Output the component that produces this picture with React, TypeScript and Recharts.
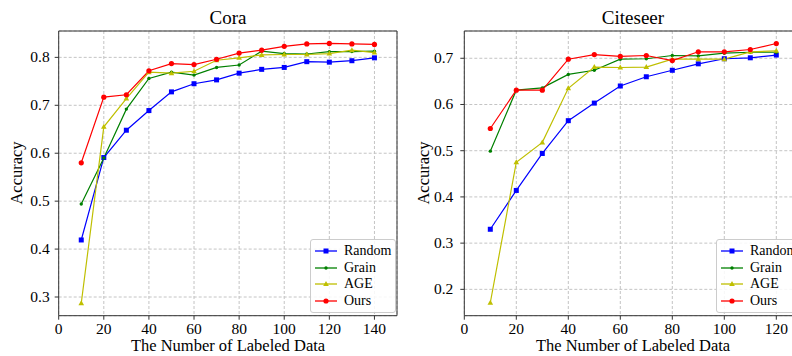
import React from 'react';
import { LineChart, Line, XAxis, YAxis, CartesianGrid, Legend, ReferenceArea } from 'recharts';

const FONT = "'Liberation Serif', 'Times New Roman', serif";

// Cora
const coraX = [10, 20, 30, 40, 50, 60, 70, 80, 90, 100, 110, 120, 130, 140];
const coraRandom = [0.419, 0.591, 0.648, 0.689, 0.728, 0.745, 0.753, 0.767, 0.775, 0.779, 0.791, 0.790, 0.793, 0.799];
const coraGrain = [0.494, 0.590, 0.692, 0.756, 0.769, 0.763, 0.779, 0.784, 0.813, 0.808, 0.807, 0.812, 0.812, 0.813];
const coraAGE = [0.287, 0.655, 0.714, 0.769, 0.767, 0.771, 0.794, 0.799, 0.805, 0.806, 0.806, 0.808, 0.815, 0.810];
const coraOurs = [0.580, 0.717, 0.722, 0.772, 0.787, 0.785, 0.796, 0.809, 0.815, 0.823, 0.828, 0.829, 0.828, 0.827];
const coraXTicks = [0, 20, 40, 60, 80, 100, 120, 140];
const coraYTicks = [0.3, 0.4, 0.5, 0.6, 0.7, 0.8];

// Citeseer
const citeX = [10, 20, 30, 40, 50, 60, 70, 80, 90, 100, 110, 120];
const citeRandom = [0.330, 0.414, 0.494, 0.565, 0.603, 0.640, 0.660, 0.674, 0.688, 0.699, 0.701, 0.707];
const citeGrain = [0.499, 0.631, 0.636, 0.665, 0.674, 0.698, 0.699, 0.706, 0.705, 0.711, 0.713, 0.713];
const citeAGE = [0.171, 0.475, 0.518, 0.635, 0.681, 0.680, 0.681, 0.698, 0.698, 0.698, 0.714, 0.716];
const citeOurs = [0.548, 0.631, 0.631, 0.698, 0.708, 0.704, 0.706, 0.695, 0.714, 0.714, 0.719, 0.732];
const citeXTicks = [0, 20, 40, 60, 80, 100, 120];
const citeYTicks = [0.2, 0.3, 0.4, 0.5, 0.6, 0.7];

const series = [
  { key: 'Random', color: '#0000ff', shape: 'square' },
  { key: 'Grain', color: '#008000', shape: 'point' },
  { key: 'AGE', color: '#bfbf00', shape: 'triangle' },
  { key: 'Ours', color: '#ff0000', shape: 'circle' },
];

const toRows = (x: number[], r: number[], g: number[], a: number[], o: number[]) =>
  x.map((v, i) => ({ x: v, Random: r[i], Grain: g[i], AGE: a[i], Ours: o[i] }));

const coraData = toRows(coraX, coraRandom, coraGrain, coraAGE, coraOurs);
const citeData = toRows(citeX, citeRandom, citeGrain, citeAGE, citeOurs);

const Marker = ({ shape, color, cx, cy }: { shape: string; color: string; cx: number; cy: number }) => {
  if (shape === 'square') return <rect x={cx - 2.5} y={cy - 2.5} width={5} height={5} fill={color} />;
  if (shape === 'triangle')
    return <polygon points={`${cx},${cy - 3} ${cx - 2.8},${cy + 2} ${cx + 2.8},${cy + 2}`} fill={color} />;
  if (shape === 'point') return <circle cx={cx} cy={cy} r={1.7} fill={color} />;
  return <circle cx={cx} cy={cy} r={2.6} fill={color} />;
};

const makeDot = (shape: string, color: string) => (p: any) => {
  if (p.cx == null || p.cy == null) return <g key={p.index} />;
  return (
    <g key={p.index}>
      <Marker shape={shape} color={color} cx={p.cx} cy={p.cy} />
    </g>
  );
};

const XTick = (p: any) => (
  <text x={p.x} y={p.y} dy={11} textAnchor="middle" fill="#000" style={{ fontFamily: FONT, fontSize: 15.5 }}>
    {p.payload.value}
  </text>
);

const YTick = (p: any) => (
  <text x={p.x} y={p.y} dy={5} textAnchor="end" fill="#000" style={{ fontFamily: FONT, fontSize: 15.5 }}>
    {Number(p.payload.value).toFixed(1)}
  </text>
);

const LegendBox = () => (
  <div
    style={{
      background: 'rgba(255,255,255,0.85)',
      border: '1px solid #cccccc',
      borderRadius: 3,
      padding: '3px 4px 3px 3px',
      fontFamily: FONT,
      fontSize: 14,
      color: '#000',
      lineHeight: '16.5px',
      whiteSpace: 'nowrap',
    }}
  >
    {series.map((s) => (
      <div key={s.key} style={{ display: 'flex', alignItems: 'center' }}>
        <svg width={24} height={12} style={{ marginRight: 6 }}>
          <line x1={1} y1={6} x2={23} y2={6} stroke={s.color} strokeWidth={1.3} />
          <Marker shape={s.shape} color={s.color} cx={12} cy={6} />
        </svg>
        <span style={{ fontFamily: FONT }}>{s.key}</span>
      </div>
    ))}
  </div>
);

type PanelProps = {
  data: any[];
  width: number;
  yAxisWidth: number;
  rightMargin: number;
  xMax: number;
  xTicks: number[];
  yDomain: [number, number];
  yTicks: number[];
  legendLeft: number;
  tickMargin: number;
};

const Panel = ({ data, width, yAxisWidth, rightMargin, xMax, xTicks, yDomain, yTicks, legendLeft, tickMargin }: PanelProps) => (
  <LineChart width={width} height={356} data={data} margin={{ top: 31, right: rightMargin, bottom: 0, left: 0 }}>
    <CartesianGrid stroke="#c4c4c4" strokeDasharray="3 2" />
    <XAxis
      dataKey="x"
      type="number"
      domain={[0, xMax]}
      ticks={xTicks}
      allowDataOverflow
      height={40.3}
      axisLine={false}
      tickSize={4}
      tickMargin={3}
      tickLine={{ stroke: '#333' }}
      tick={<XTick />}
      interval={0}
    />
    <YAxis
      type="number"
      domain={yDomain}
      ticks={yTicks}
      allowDataOverflow
      width={yAxisWidth}
      axisLine={false}
      tickSize={4}
      tickMargin={tickMargin}
      tickLine={{ stroke: '#333' }}
      tick={<YTick />}
      interval={0}
    />
    <ReferenceArea x1={0} x2={xMax} y1={yDomain[0]} y2={yDomain[1]} fill="none" stroke="#333" strokeWidth={1} />
    {series.map((s) => (
      <Line
        key={s.key}
        type="linear"
        dataKey={s.key}
        stroke={s.color}
        strokeWidth={1.2}
        dot={makeDot(s.shape, s.color)}
        activeDot={false}
        isAnimationActive={false}
      />
    ))}
    <Legend
      layout="vertical"
      align="center"
      verticalAlign="middle"
      content={() => <LegendBox />}
      wrapperStyle={{ left: legendLeft, top: 239, width: 'auto', height: 'auto' }}
    />
  </LineChart>
);

const Overlay = () => {
  const st = { fontFamily: FONT };
  return (
    <svg width={792} height={356} style={{ position: 'absolute', left: 0, top: 0, pointerEvents: 'none' }}>
      <text x={228} y={24} textAnchor="middle" fontSize={19} fill="#000" style={st}>Cora</text>
      <text x={633} y={24} textAnchor="middle" fontSize={19} fill="#000" style={st}>Citeseer</text>
      <text x={228} y={351} textAnchor="middle" fontSize={16.5} fill="#000" style={st}>The Number of Labeled Data</text>
      <text x={633} y={351} textAnchor="middle" fontSize={16.5} fill="#000" style={st}>The Number of Labeled Data</text>
      <text x={22} y={173} textAnchor="middle" fontSize={16.5} fill="#000" style={st} transform="rotate(-90 22 173)">Accuracy</text>
      <text x={429} y={173} textAnchor="middle" fontSize={16.5} fill="#000" style={st} transform="rotate(-90 429 173)">Accuracy</text>
    </svg>
  );
};

export default function App() {
  return (
    <div style={{ position: 'fixed', left: 0, top: 0, width: 792, height: 356, overflow: 'hidden', background: '#fff', fontFamily: FONT }}>
      <div style={{ position: 'absolute', left: 0, top: 0 }}>
        <Panel
          data={coraData}
          width={400}
          yAxisWidth={58.7}
          rightMargin={3}
          xMax={150}
          xTicks={coraXTicks}
          yDomain={[0.261, 0.855]}
          yTicks={coraYTicks}
          legendLeft={310}
          tickMargin={5}
        />
      </div>
      <div style={{ position: 'absolute', left: 400, top: 0 }}>
        <Panel
          data={citeData}
          width={405}
          yAxisWidth={64.3}
          rightMargin={2.7}
          xMax={130}
          xTicks={citeXTicks}
          yDomain={[0.143, 0.759]}
          yTicks={citeYTicks}
          legendLeft={316}
          tickMargin={7}
        />
      </div>
      <Overlay />
    </div>
  );
}
